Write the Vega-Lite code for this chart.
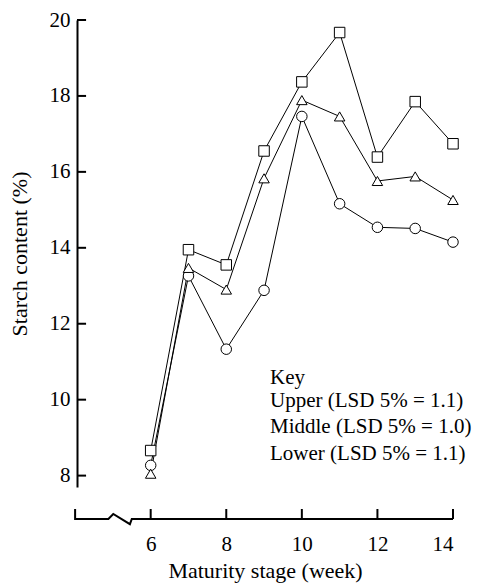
{
  "$schema": "https://vega.github.io/schema/vega-lite/v6.json",
  "width": 376,
  "height": 467,
  "autosize": "none",
  "padding": {"left": 77, "top": 20, "right": 49, "bottom": 97},
  "background": "white",
  "config": {
    "font": "Liberation Serif",
    "view": {"stroke": null},
    "axis": {
      "domainColor": "black",
      "labelColor": "black",
      "titleColor": "black",
      "labelFontSize": 21,
      "titleFontSize": 22,
      "titleFontWeight": "normal",
      "ticks": false,
      "grid": false
    }
  },
  "datasets": {
    "starch": [
      {"series": "Upper (LSD 5% = 1.1)", "week": 6, "starch": 8.27},
      {"series": "Upper (LSD 5% = 1.1)", "week": 7, "starch": 13.26},
      {"series": "Upper (LSD 5% = 1.1)", "week": 8, "starch": 11.33},
      {"series": "Upper (LSD 5% = 1.1)", "week": 9, "starch": 12.88},
      {"series": "Upper (LSD 5% = 1.1)", "week": 10, "starch": 17.46},
      {"series": "Upper (LSD 5% = 1.1)", "week": 11, "starch": 15.16},
      {"series": "Upper (LSD 5% = 1.1)", "week": 12, "starch": 14.54},
      {"series": "Upper (LSD 5% = 1.1)", "week": 13, "starch": 14.51},
      {"series": "Upper (LSD 5% = 1.1)", "week": 14, "starch": 14.15},
      {"series": "Middle (LSD 5% = 1.0)", "week": 6, "starch": 8.05},
      {"series": "Middle (LSD 5% = 1.0)", "week": 7, "starch": 13.47},
      {"series": "Middle (LSD 5% = 1.0)", "week": 8, "starch": 12.9},
      {"series": "Middle (LSD 5% = 1.0)", "week": 9, "starch": 15.83},
      {"series": "Middle (LSD 5% = 1.0)", "week": 10, "starch": 17.89},
      {"series": "Middle (LSD 5% = 1.0)", "week": 11, "starch": 17.46},
      {"series": "Middle (LSD 5% = 1.0)", "week": 12, "starch": 15.76},
      {"series": "Middle (LSD 5% = 1.0)", "week": 13, "starch": 15.88},
      {"series": "Middle (LSD 5% = 1.0)", "week": 14, "starch": 15.26},
      {"series": "Lower (LSD 5% = 1.1)", "week": 6, "starch": 8.66},
      {"series": "Lower (LSD 5% = 1.1)", "week": 7, "starch": 13.95},
      {"series": "Lower (LSD 5% = 1.1)", "week": 8, "starch": 13.55},
      {"series": "Lower (LSD 5% = 1.1)", "week": 9, "starch": 16.55},
      {"series": "Lower (LSD 5% = 1.1)", "week": 10, "starch": 18.37},
      {"series": "Lower (LSD 5% = 1.1)", "week": 11, "starch": 19.67},
      {"series": "Lower (LSD 5% = 1.1)", "week": 12, "starch": 16.39},
      {"series": "Lower (LSD 5% = 1.1)", "week": 13, "starch": 17.85},
      {"series": "Lower (LSD 5% = 1.1)", "week": 14, "starch": 16.74}
    ],
    "axisLine": [
      {"i": 0, "week": 4.0, "starch": 7.12},
      {"i": 1, "week": 4.0, "starch": 6.857},
      {"i": 2, "week": 4.88, "starch": 6.857},
      {"i": 3, "week": 5.01, "starch": 6.99},
      {"i": 4, "week": 5.45, "starch": 6.72},
      {"i": 5, "week": 5.5, "starch": 6.857},
      {"i": 6, "week": 14, "starch": 6.857}
    ],
    "inwardTicks": [
      {"week": 4.05, "week2": 4.29, "starch": 8, "starch2": 8},
      {"week": 4.05, "week2": 4.29, "starch": 10, "starch2": 10},
      {"week": 4.05, "week2": 4.29, "starch": 12, "starch2": 12},
      {"week": 4.05, "week2": 4.29, "starch": 14, "starch2": 14},
      {"week": 4.05, "week2": 4.29, "starch": 16, "starch2": 16},
      {"week": 4.05, "week2": 4.29, "starch": 18, "starch2": 18},
      {"week": 4.05, "week2": 4.29, "starch": 20, "starch2": 20},
      {"week": 6, "week2": 6, "starch": 6.857, "starch2": 7.12},
      {"week": 8, "week2": 8, "starch": 6.857, "starch2": 7.12},
      {"week": 10, "week2": 10, "starch": 6.857, "starch2": 7.12},
      {"week": 12, "week2": 12, "starch": 6.857, "starch2": 7.12},
      {"week": 14, "week2": 14, "starch": 6.857, "starch2": 7.12}
    ]
  },
  "encoding": {
    "x": {
      "field": "week",
      "type": "quantitative",
      "scale": {"domain": [4.05, 14], "nice": false, "zero": false},
      "axis": {
        "title": "Maturity stage (week)",
        "values": [6, 8, 10, 12, 14],
        "offset": 32,
        "domain": false,
        "labelPadding": 14,
        "titlePadding": 6
      }
    },
    "y": {
      "field": "starch",
      "type": "quantitative",
      "scale": {"domain": [7.7, 20], "nice": false, "zero": false},
      "axis": {
        "title": "Starch content (%)",
        "values": [8, 10, 12, 14, 16, 18, 20],
        "domainWidth": 2,
        "labelPadding": 7,
        "titlePadding": 18
      }
    }
  },
  "layer": [
    {
      "data": {"name": "axisLine"},
      "mark": {"type": "line", "color": "black", "strokeWidth": 2},
      "encoding": {"order": {"field": "i", "type": "quantitative"}}
    },
    {
      "data": {"name": "inwardTicks"},
      "mark": {"type": "rule", "color": "black", "strokeWidth": 2},
      "encoding": {
        "x2": {"field": "week2"},
        "y2": {"field": "starch2"}
      }
    },
    {
      "data": {"name": "starch"},
      "mark": {"type": "line", "color": "black", "strokeWidth": 1},
      "encoding": {"detail": {"field": "series", "type": "nominal"}}
    },
    {
      "data": {"name": "starch"},
      "mark": {"type": "point", "filled": true, "fill": "white", "stroke": "black", "strokeWidth": 1, "size": 110, "opacity": 1},
      "encoding": {
        "shape": {
          "field": "series",
          "type": "nominal",
          "scale": {
            "domain": ["Upper (LSD 5% = 1.1)", "Middle (LSD 5% = 1.0)", "Lower (LSD 5% = 1.1)"],
            "range": ["circle", "triangle-up", "square"]
          },
          "legend": null
        }
      }
    },
    {
      "data": {"name": "starch"},
      "transform": [{"filter": "false"}],
      "mark": {"type": "point", "filled": false, "fill": "white", "stroke": "black", "strokeWidth": 1, "size": 4, "opacity": 1},
      "encoding": {
        "shape": {
          "field": "series",
          "type": "nominal",
          "scale": {
            "domain": ["Upper (LSD 5% = 1.1)", "Middle (LSD 5% = 1.0)", "Lower (LSD 5% = 1.1)"],
            "range": [
              "M-85.5,0H-55.5M-45.5,0H-18.5M-45.5,0A5,5 0 1,1 -55.5,0A5,5 0 1,1 -45.5,0Z",
              "M-85.5,0H-52.8M-48.2,0H-18.5M-50.5,-4L-46.5,3L-54.5,3Z",
              "M-85.5,0H-54.5M-46.5,0H-18.5M-54.5,-4H-46.5V4H-54.5Z"
            ]
          },
          "legend": {
            "title": "Key",
            "orient": "none",
            "legendX": 193,
            "legendY": 346.5,
            "padding": 0,
            "symbolSize": 4,
            "symbolOpacity": 1,
            "symbolFillColor": "white",
            "symbolStrokeColor": "black",
            "symbolStrokeWidth": 1,
            "labelFontSize": 21,
            "labelColor": "black",
            "labelOffset": -21,
            "labelLimit": 400,
            "titleFontSize": 21,
            "titleFontWeight": "normal",
            "titleColor": "black",
            "titlePadding": 2.5,
            "rowPadding": 4.5,
            "encode": {
              "symbols": {
                "stroke": {"value": "black"},
                "fill": {"value": "white"},
                "strokeWidth": {"value": 1},
                "opacity": {"value": 1},
                "fillOpacity": {"value": 1},
                "strokeOpacity": {"value": 1},
                "size": {"value": 4}
              }
            }
          }
        }
      }
    }
  ],
  "resolve": {"scale": {"shape": "independent"}}
}
